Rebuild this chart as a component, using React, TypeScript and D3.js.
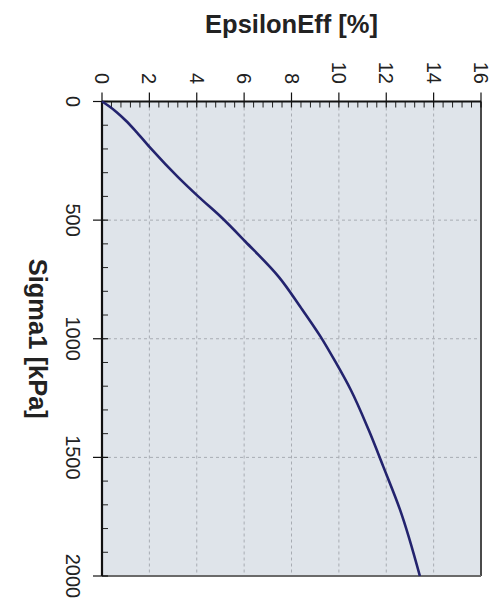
import * as d3 from "d3";

// Sigma1 [kPa] vs EpsilonEff [%] (drawn rotated 90deg)
const sigmaKPa = [0, 20, 45, 80, 130, 200, 320, 400, 490, 590, 740, 865, 990, 1100, 1215, 1385, 1540, 1720, 2000];
const epsilonEff = [0, 0.3, 0.62, 1.0, 1.47, 2.08, 3.22, 4.06, 5.06, 6.05, 7.47, 8.37, 9.22, 9.87, 10.5, 11.26, 11.88, 12.58, 13.42];

const epsTicks = [0, 2, 4, 6, 8, 10, 12, 14, 16];
const sigmaTicks = [0, 500, 1000, 1500, 2000];

const width = 501;
const height = 610;
const margin = { top: 101.5, right: 20, bottom: 34, left: 102 };

export default function App() {
  const x = d3.scaleLinear().domain([0, 16]).range([margin.left, width - margin.right]);
  const y = d3.scaleLinear().domain([0, 2000]).range([margin.top, height - margin.bottom]);

  const pts: [number, number][] = sigmaKPa.map((s, i) => [x(epsilonEff[i]), y(s)]);
  const line = d3.line<[number, number]>().curve(d3.curveMonotoneY)(pts) ?? "";

  const epsMinor = d3.range(0, 16.001, 0.4).filter((v) => Math.abs(v / 2 - Math.round(v / 2)) > 1e-6);
  const sigmaMinor = d3.range(0, 2001, 100).filter((v) => v % 500 !== 0);

  const [x0, x1] = x.range();
  const [y0, y1] = y.range();

  return (
    <svg
      width={width}
      height={height}
      style={{ position: "absolute", left: 0, top: 0, background: "#fff" }}
      fontFamily="'Liberation Sans', Arial, sans-serif"
    >
      <rect x={x0} y={y0} width={x1 - x0} height={y1 - y0} fill="#dfe4ea" />

      {/* grid */}
      {epsTicks.slice(1, -1).map((t) => (
        <line key={"gx" + t} x1={x(t)} x2={x(t)} y1={y0} y2={y1} stroke="#a8acb3" strokeDasharray="3,3" strokeWidth={1} />
      ))}
      {sigmaTicks.slice(1, -1).map((t) => (
        <line key={"gy" + t} x1={x0} x2={x1} y1={y(t)} y2={y(t)} stroke="#a8acb3" strokeDasharray="3,3" strokeWidth={1} />
      ))}

      {/* frame: right and bottom lighter */}
      <line x1={x1} x2={x1} y1={y0} y2={y1} stroke="#4a4a4a" strokeWidth={2} />
      <line x1={x0} x2={x1} y1={y1} y2={y1} stroke="#6a6a6a" strokeWidth={2} />

      {/* minor ticks (inside) */}
      {epsMinor.map((t) => (
        <line key={"mx" + t} x1={x(t)} x2={x(t)} y1={y0} y2={y0 + 6} stroke="#222" strokeWidth={1} />
      ))}
      {sigmaMinor.map((t) => (
        <line key={"my" + t} x1={x0} x2={x0 + 6} y1={y(t)} y2={y(t)} stroke="#222" strokeWidth={1} />
      ))}

      {/* major ticks */}
      {epsTicks.map((t) => (
        <line key={"tx" + t} x1={x(t)} x2={x(t)} y1={y0 - 9} y2={y0 + 6} stroke="#111" strokeWidth={1.2} />
      ))}
      {sigmaTicks.map((t) => (
        <line key={"ty" + t} x1={x0 - 9} x2={x0 + 6} y1={y(t)} y2={y(t)} stroke="#111" strokeWidth={1.2} />
      ))}

      {/* axes */}
      <line x1={x0} x2={x1} y1={y0} y2={y0} stroke="#111" strokeWidth={2.2} />
      <line x1={x0} x2={x0} y1={y0} y2={y1} stroke="#111" strokeWidth={2.2} />

      {/* curve */}
      <path d={line} fill="none" stroke="#23236e" strokeWidth={2.6} strokeLinejoin="round" />

      {/* tick labels, rotated like the scan */}
      {epsTicks.map((t) => (
        <text
          key={"lx" + t}
          transform={`translate(${x(t)},84) rotate(90)`}
          textAnchor="end"
          dy="0.35em"
          fontSize={20}
          fill="#222"
        >
          {t}
        </text>
      ))}
      {sigmaTicks.map((t) => (
        <text
          key={"ly" + t}
          transform={`translate(66,${y(t)}) rotate(90)`}
          textAnchor="middle"
          fontSize={20}
          fill="#222"
        >
          {t}
        </text>
      ))}

      {/* axis titles */}
      <text x={(x0 + x1) / 2} y={33} textAnchor="middle" fontSize={25.5} fontWeight="bold" fill="#222">
        EpsilonEff [%]
      </text>
      <text
        transform={`translate(29,${(y0 + y1) / 2}) rotate(90)`}
        textAnchor="middle"
        fontSize={25.5}
        fontWeight="bold"
        fill="#222"
      >
        Sigma1 [kPa]
      </text>
    </svg>
  );
}
